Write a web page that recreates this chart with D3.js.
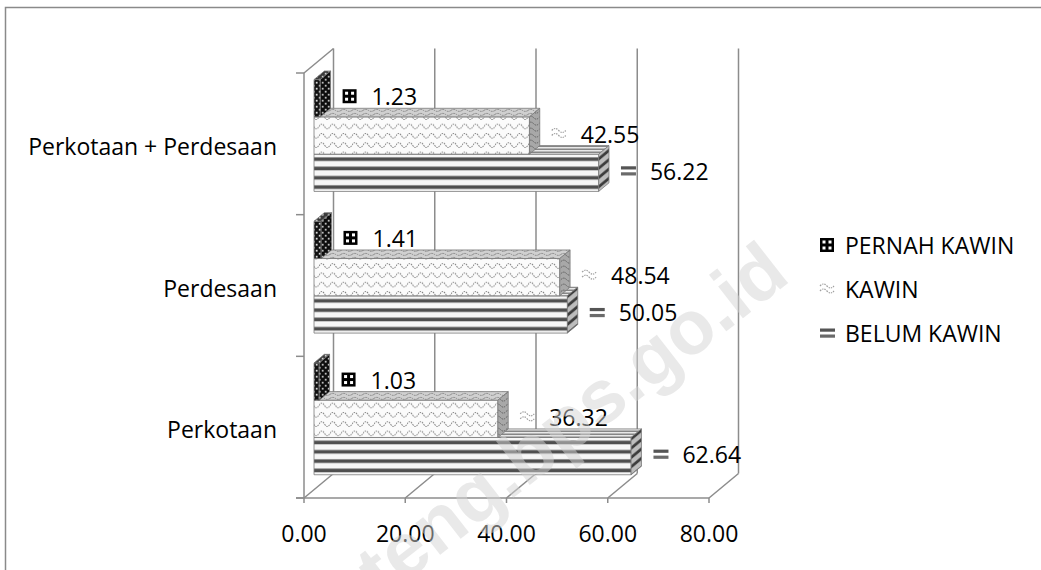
<!DOCTYPE html>
<html>
<head>
<meta charset="utf-8">
<script src="https://cdn.jsdelivr.net/npm/d3@7"></script>
<style>
  html, body { margin: 0; padding: 0; background: #fff; }
  svg { display: block; }
  text { font-family: "Open Sans", "Noto Sans", sans-serif; fill: #000; }
</style>
</head>
<body>
<svg id="chart" width="1041" height="570"></svg>
<script>
// Marital status (%) by area
const categories = ["Perkotaan + Perdesaan", "Perdesaan", "Perkotaan"];
const seriesNames = ["PERNAH KAWIN", "KAWIN", "BELUM KAWIN"];
const pernahKawin = [1.23, 1.41, 1.03];
const kawin = [42.55, 48.54, 36.32];
const belumKawin = [56.22, 50.05, 62.64];
const xTicks = [0, 20, 40, 60, 80];
const watermark = "jateng.bps.go.id";

const seriesValues = { "PERNAH KAWIN": pernahKawin, "KAWIN": kawin, "BELUM KAWIN": belumKawin };

const svg = d3.select("#chart");
const defs = svg.append("defs");

// plot frame (front plane) and 3D depth vector
const plot = { left: 304, right: 709, top: 73, bottom: 498 };
const DX = 29.5, DY = -24.5;
const F0 = 0.34, F1 = 0.69;          // bar front / back depth fractions
const lineColor = "#8c8c8c";
const fontSize = 23;

const x = d3.scaleLinear().domain([0, 80]).range([plot.left, plot.right]);
const y = d3.scaleBand().domain(categories).range([plot.top, plot.bottom]);
const ys = d3.scaleBand().domain(seriesNames).range([0, y.bandwidth()]).paddingOuter(0.4);
const fmt = d3.format(".2f");
const proj = (px, py, f) => [px + f * DX, py + f * DY];

// ---------- fill patterns ----------
function pat(id, w, h, opts = {}) {
  const p = defs.append("pattern").attr("id", id)
    .attr("patternUnits", opts.units || "userSpaceOnUse")
    .attr("width", w).attr("height", h);
  if (opts.transform) p.attr("patternTransform", opts.transform);
  return p;
}
// horizontal stripes (BELUM KAWIN)
{
  const p = pat("stripeFront", 1, 0.25, { units: "objectBoundingBox" });
  p.append("rect").attr("width", 2000).attr("height", 40).attr("fill", "#f7f7f7");
  p.append("rect").attr("y", 3.2).attr("width", 2000).attr("height", 3.6).attr("fill", "#4f4f4f");
  const t = pat("stripeTop", 8, 3);
  t.append("rect").attr("width", 8).attr("height", 3).attr("fill", "#e8e8e8");
  t.append("rect").attr("y", 1.6).attr("width", 8).attr("height", 1.2).attr("fill", "#6e6e6e");
  const s = pat("stripeSide", 10, 9.3, { transform: "skewY(-39.7)" });
  s.append("rect").attr("width", 10).attr("height", 9.3).attr("fill", "#bdbdbd");
  s.append("rect").attr("y", 3.2).attr("width", 10).attr("height", 3.6).attr("fill", "#3d3d3d");
}
// wave texture (KAWIN)
function wavePat(id, bg, stroke, h) {
  const p = pat(id, 11, h);
  p.append("rect").attr("width", 11).attr("height", h).attr("fill", bg);
  p.append("path").attr("d", `M0,${h * 0.6} Q2.75,${h * 0.1} 5.5,${h * 0.6} T11,${h * 0.6}`)
    .attr("fill", "none").attr("stroke", stroke).attr("stroke-width", 1)
    .attr("stroke-dasharray", "1.6 0.9");
}
wavePat("waveFront", "#fbfbfb", "#7f7f7f", 9.3);
wavePat("waveTop", "#d0d0d0", "#858585", 4);
wavePat("waveSide", "#a8a8a8", "#5e5e5e", 6);
// dotted dark texture (PERNAH KAWIN)
function dotPat(id, bg, dot) {
  const p = pat(id, 6, 6);
  p.append("rect").attr("width", 6).attr("height", 6).attr("fill", bg);
  p.append("rect").attr("x", 0.8).attr("y", 0.8).attr("width", 1.8).attr("height", 1.8).attr("fill", dot);
  p.append("rect").attr("x", 3.8).attr("y", 3.8).attr("width", 1.8).attr("height", 1.8).attr("fill", dot);
}
dotPat("dotFront", "#111", "#d8d8d8");
dotPat("dotTop", "#3a3a3a", "#cfcfcf");
dotPat("dotSide", "#0d0d0d", "#bdbdbd");

const fills = {
  "PERNAH KAWIN": { front: "url(#dotFront)", top: "url(#dotTop)", side: "url(#dotSide)" },
  "KAWIN": { front: "url(#waveFront)", top: "url(#waveTop)", side: "url(#waveSide)" },
  "BELUM KAWIN": { front: "url(#stripeFront)", top: "url(#stripeTop)", side: "url(#stripeSide)" }
};

// ---------- walls, grid and floor ----------
const grid = svg.append("g").attr("stroke", lineColor).attr("stroke-width", 1.5).attr("fill", "none");
// back wall gridlines
grid.selectAll("line.grid").data(xTicks).join("line").attr("class", "grid")
  .attr("x1", d => proj(x(d), plot.top, 1)[0]).attr("y1", d => proj(x(d), plot.top, 1)[1])
  .attr("x2", d => proj(x(d), plot.bottom, 1)[0]).attr("y2", d => proj(x(d), plot.bottom, 1)[1]);
// floor diagonals
grid.selectAll("line.floor").data(xTicks).join("line").attr("class", "floor")
  .attr("x1", d => x(d)).attr("y1", plot.bottom)
  .attr("x2", d => proj(x(d), plot.bottom, 1)[0]).attr("y2", d => proj(x(d), plot.bottom, 1)[1]);
// side wall: front edge and top edge
grid.append("line").attr("x1", plot.left).attr("y1", plot.top).attr("x2", plot.left).attr("y2", plot.bottom);
grid.append("line").attr("x1", plot.left).attr("y1", plot.top)
  .attr("x2", proj(plot.left, plot.top, 1)[0]).attr("y2", proj(plot.left, plot.top, 1)[1]);
// value axis line and ticks
grid.append("line").attr("x1", plot.left - 8).attr("y1", plot.bottom).attr("x2", plot.right).attr("y2", plot.bottom);
grid.selectAll("line.xtick").data(xTicks).join("line").attr("class", "xtick")
  .attr("x1", d => x(d)).attr("x2", d => x(d)).attr("y1", plot.bottom).attr("y2", plot.bottom + 5);
// category ticks at band boundaries
const bounds = categories.map(c => y(c)).concat([plot.bottom]);
grid.selectAll("line.ytick").data(bounds).join("line").attr("class", "ytick")
  .attr("x1", plot.left - 8).attr("x2", plot.left).attr("y1", d => d).attr("y2", d => d);

// ---------- bars ----------
const rows = [];
categories.forEach((c, i) => {
  seriesNames.slice().reverse().forEach(s => {
    rows.push({ cat: c, series: s, value: seriesValues[s][i] });
  });
});
const pts = a => a.map(p => p.join(",")).join(" ");
const bars = svg.append("g").attr("stroke", "#7a7a7a").attr("stroke-width", 0.8).attr("stroke-linejoin", "round");
rows.forEach(d => {
  const y0 = y(d.cat) + ys(d.series), h = ys.bandwidth();
  const x0 = x(0), x1 = x(d.value);
  const g = bars.append("g");
  const f = proj(x0, y0, F0);
  g.append("rect").attr("x", f[0]).attr("y", f[1])
    .attr("width", x1 - x0).attr("height", h).attr("fill", fills[d.series].front);
  g.append("polygon").attr("fill", fills[d.series].top)
    .attr("points", pts([proj(x0, y0, F0), proj(x1, y0, F0), proj(x1, y0, F1), proj(x0, y0, F1)]));
  g.append("polygon").attr("fill", fills[d.series].side)
    .attr("points", pts([proj(x1, y0, F0), proj(x1, y0, F1), proj(x1, y0 + h, F1), proj(x1, y0 + h, F0)]));
});

// ---------- key symbols ----------
function drawKey(g, s, kx, cy) {
  if (s === "PERNAH KAWIN") {
    g.append("rect").attr("x", kx).attr("y", cy - 7).attr("width", 14).attr("height", 14).attr("fill", "#000");
    [[2.5, 2.5], [8.5, 2.5], [2.5, 8.5], [8.5, 8.5]].forEach(([a, b]) =>
      g.append("rect").attr("x", kx + a).attr("y", cy - 7 + b).attr("width", 3).attr("height", 3).attr("fill", "#fff"));
  } else if (s === "KAWIN") {
    [-3, 2].forEach(o => g.append("path")
      .attr("d", `M${kx},${cy + o} q3.5,-4 7,0 t7,0`)
      .attr("fill", "none").attr("stroke", "#a0a0a0").attr("stroke-width", 1.2).attr("stroke-dasharray", "1.5 1"));
  } else {
    g.append("rect").attr("x", kx).attr("y", cy - 4.5).attr("width", 15).attr("height", 3.2).attr("fill", "#555");
    g.append("rect").attr("x", kx).attr("y", cy + 1.5).attr("width", 15).attr("height", 3.2).attr("fill", "#6a6a6a");
  }
}

// ---------- data labels ----------
const labels = svg.append("g").attr("font-size", fontSize);
rows.forEach(d => {
  const y0 = y(d.cat) + ys(d.series), h = ys.bandwidth();
  const kx = x(d.value) + F1 * DX + 12;
  const cy = y0 + h / 2 + F0 * DY - 2;
  drawKey(labels, d.series, kx, cy);
  labels.append("text").attr("x", kx + 29).attr("y", cy).attr("dominant-baseline", "central")
    .text(fmt(d.value));
});

// ---------- axis labels ----------
svg.append("g").attr("font-size", fontSize).selectAll("text").data(categories).join("text")
  .attr("x", 277).attr("y", d => y(d) + y.bandwidth() / 2 + 2)
  .attr("text-anchor", "end").attr("dominant-baseline", "central").text(d => d);
svg.append("g").attr("font-size", fontSize).selectAll("text").data(xTicks).join("text")
  .attr("x", d => x(d)).attr("y", 533).attr("text-anchor", "middle")
  .attr("dominant-baseline", "central").text(d => fmt(d));

// ---------- legend ----------
const legend = svg.append("g").attr("font-size", fontSize);
seriesNames.forEach((s, i) => {
  const cy = 245 + i * 44;
  drawKey(legend, s, 820, cy);
  legend.append("text").attr("x", 845).attr("y", cy).attr("dominant-baseline", "central").text(s);
});

// ---------- outer frame ----------
svg.append("rect").attr("x", 5.5).attr("y", 7.5).attr("width", 1100).attr("height", 600)
  .attr("fill", "none").attr("stroke", "#8a8a8a").attr("stroke-width", 1.5);

// ---------- watermark ----------
svg.append("text").attr("transform", "translate(792,280) rotate(-38)")
  .attr("text-anchor", "end")
  .style("font-family", "'Liberation Sans', Arial, sans-serif")
  .style("font-weight", "bold").style("font-size", "76px")
  .style("fill", "#d4d4d4").style("fill-opacity", 0.5)
  .text(watermark);
</script>
</body>
</html>
